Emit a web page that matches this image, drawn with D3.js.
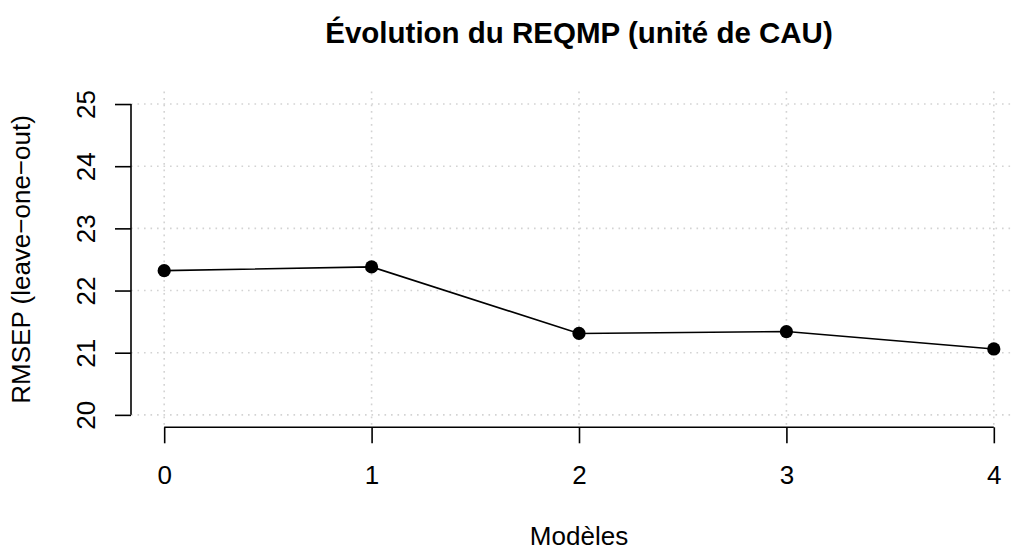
<!DOCTYPE html>
<html lang="fr">
<head>
<meta charset="utf-8">
<title>Évolution du REQMP</title>
<script src="https://d3js.org/d3.v7.min.js"></script>
<style>
  body { margin: 0; background: #fff; }
  svg text { font-family: "Liberation Sans", Arial, Helvetica, sans-serif; fill: #000; }
</style>
</head>
<body>
<div id="chart"></div>
<script>
// data
var models = [0, 1, 2, 3, 4];
var rmsep = [22.32, 22.38, 21.31, 21.34, 21.06];
var yTicks = [20, 21, 22, 23, 24, 25];

var width = 1012, height = 549;
var lineH = 31.5;           // one margin line, R style
var fontSize = 26;

// plot region (R extends the range 4% each side)
var plotLeft = 131, plotRight = 1027, plotTop = 91.6, plotBottom = 427.3;

var svg = d3.select("#chart").append("svg")
  .attr("width", width)
  .attr("height", height);

var x = d3.scaleLinear().domain([-0.16, 4.16]).range([plotLeft, plotRight]);
var y = d3.scaleLinear().domain([19.8, 25.2]).range([plotBottom, plotTop]);

// grid
var grid = svg.append("g")
  .attr("stroke", "#d3d3d3")
  .attr("stroke-width", 1.6)
  .attr("stroke-dasharray", "1.6,4.9");

grid.selectAll("line.v")
  .data(models)
  .enter().append("line")
  .attr("class", "v")
  .attr("x1", function(d) { return x(d); })
  .attr("x2", function(d) { return x(d); })
  .attr("y1", plotTop)
  .attr("y2", plotBottom);

grid.selectAll("line.h")
  .data(yTicks)
  .enter().append("line")
  .attr("class", "h")
  .attr("x1", plotLeft)
  .attr("x2", plotRight)
  .attr("y1", function(d) { return y(d); })
  .attr("y2", function(d) { return y(d); });

// axes
var xAxis = svg.append("g")
  .attr("transform", "translate(0," + plotBottom + ")")
  .call(d3.axisBottom(x).tickValues(models).tickSize(16).tickFormat(d3.format("d")));

var yAxis = svg.append("g")
  .attr("transform", "translate(" + plotLeft + ",0)")
  .call(d3.axisLeft(y).tickValues(yTicks).tickSize(16).tickFormat(d3.format("d")));

[xAxis, yAxis].forEach(function(g) {
  g.attr("font-family", null).attr("font-size", null);
  g.select(".domain").remove();
  g.selectAll(".tick line").attr("stroke", "#000").attr("stroke-width", 1.6);
  g.selectAll(".tick text").style("font-size", fontSize + "px");
});

xAxis.append("line")
  .attr("x1", x(models[0])).attr("x2", x(models[models.length - 1]))
  .attr("stroke", "#000").attr("stroke-width", 1.6);
xAxis.selectAll(".tick text")
  .attr("y", 1.8 * lineH)
  .attr("dy", null);

yAxis.append("line")
  .attr("y1", y(yTicks[0])).attr("y2", y(yTicks[yTicks.length - 1]))
  .attr("stroke", "#000").attr("stroke-width", 1.6);
yAxis.selectAll(".tick text")
  .attr("transform", "rotate(-90)")
  .attr("x", 0)
  .attr("y", -1.15 * lineH)
  .attr("dy", null)
  .attr("text-anchor", "middle");

// series
var pts = models.map(function(m, i) { return [m, rmsep[i]]; });

svg.append("path")
  .datum(pts)
  .attr("fill", "none")
  .attr("stroke", "#000")
  .attr("stroke-width", 1.6)
  .attr("d", d3.line()
    .x(function(d) { return x(d[0]); })
    .y(function(d) { return y(d[1]); }));

svg.selectAll("circle.pt")
  .data(pts)
  .enter().append("circle")
  .attr("class", "pt")
  .attr("cx", function(d) { return x(d[0]); })
  .attr("cy", function(d) { return y(d[1]); })
  .attr("r", 6.6)
  .attr("fill", "#000");

// titles
var cx = (plotLeft + plotRight) / 2;

svg.append("text")
  .attr("x", cx)
  .attr("y", 43)
  .attr("text-anchor", "middle")
  .style("font-size", "29.5px")
  .style("font-weight", "bold")
  .text("Évolution du REQMP (unité de CAU)");

svg.append("text")
  .attr("x", cx)
  .attr("y", 545)
  .attr("text-anchor", "middle")
  .style("font-size", fontSize + "px")
  .text("Modèles");

svg.append("text")
  .attr("transform", "translate(" + (plotLeft - 3.2 * lineH) + "," + ((plotTop + plotBottom) / 2) + ") rotate(-90)")
  .attr("text-anchor", "middle")
  .style("font-size", fontSize + "px")
  .text("RMSEP (leave\u2212one\u2212out)");
</script>
</body>
</html>
